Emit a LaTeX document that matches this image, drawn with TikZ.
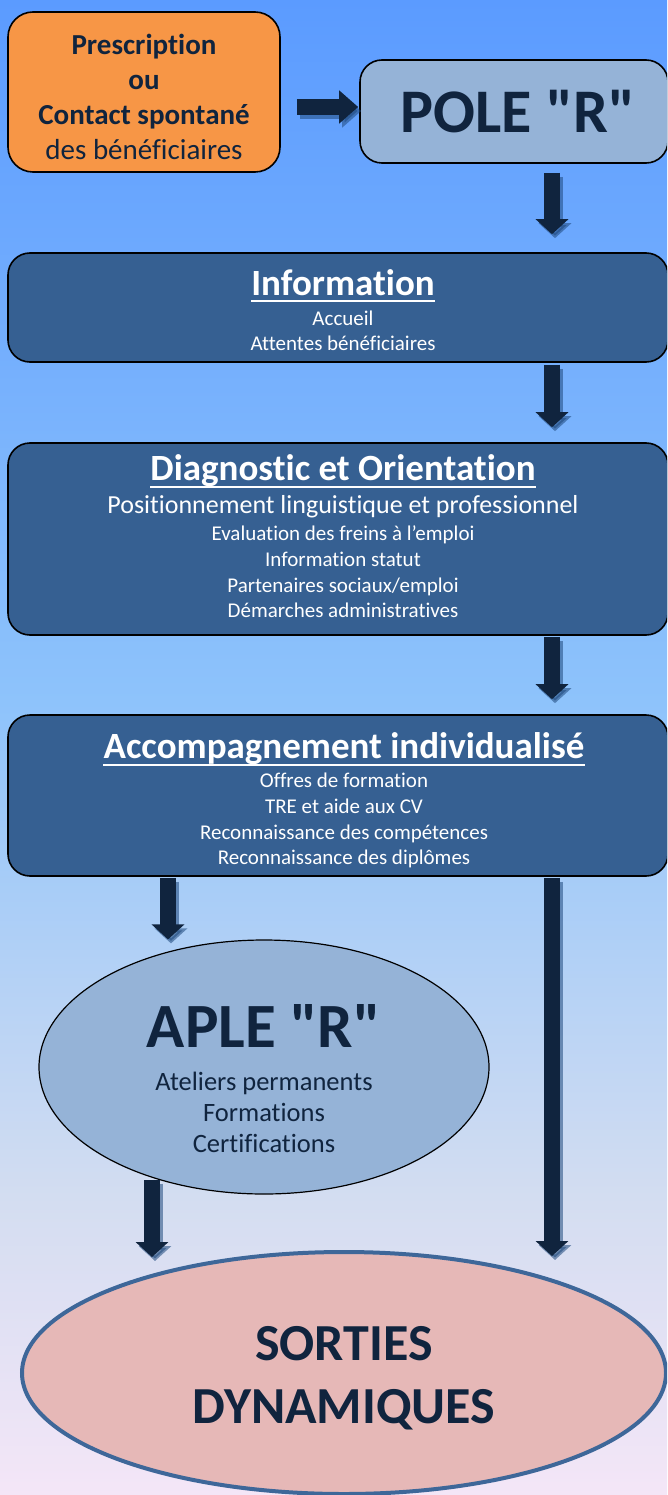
\documentclass[tikz,border=0pt]{standalone}
\usepackage{fontspec}
\setmainfont{Carlito}[Ligatures={NoCommon,TeXOff}]
\usetikzlibrary{arrows.meta,calc,shapes.geometric}
\definecolor{navy}{HTML}{10243E}
\definecolor{orangefill}{HTML}{F79646}
\definecolor{lightbox}{HTML}{95B3D7}
\definecolor{darkbox}{HTML}{366092}
\definecolor{pinkfill}{HTML}{E6B8B7}
\definecolor{sortborder}{HTML}{3E6799}
\definecolor{shadowc}{HTML}{1F497D}
\definecolor{bgtop}{HTML}{5B9BFF}
\definecolor{bgmid}{HTML}{8EC3FB}
\definecolor{bglow}{HTML}{D3DDF1}
\definecolor{bgbot}{HTML}{F4E6F7}
\pgfdeclareverticalshading{bgshade}{100bp}{color(0bp)=(bgbot); color(25bp)=(bgbot); color(35bp)=(bglow); color(51.5bp)=(bgmid); color(75bp)=(bgtop); color(100bp)=(bgtop)}
\tikzset{
  rbox/.style={draw=black, line width=1.6pt, rounded corners=22pt, inner sep=0pt},
  ebox/.style={ellipse, draw=black, line width=1.2pt, inner sep=0pt},
  txt/.style={anchor=base, inner sep=0pt},
  ttl/.style={txt, text=white, font=\fontsize{37pt}{40pt}\selectfont\bfseries},
  small/.style={txt, text=white, font=\fontsize{21pt}{25pt}\selectfont},
  bigarrow/.style={draw=navy, line width=16pt, -{Triangle[length=15pt,width=32pt]}},
  arrowshadow/.style={bigarrow, draw=shadowc, opacity=0.55, transform canvas={shift={(3pt,-4pt)}}},
  uline/.style={draw=white, line width=2.6pt}
}
\begin{document}
\begin{tikzpicture}[x=1pt,y=-1pt]
\useasboundingbox (0,0) rectangle (667,1495);
\clip (0,0) rectangle (667,1495);
\shade[shading=bgshade] (0,0) rectangle (667,1495);

% boxes
\node[rbox, fill=orangefill, rounded corners=25pt, minimum width=272pt, minimum height=160pt] (presc) at (144,92) {};
\node[rbox, fill=lightbox, minimum width=308pt, minimum height=103pt] (pole) at (514,111.5) {};
\node[rbox, fill=darkbox, minimum width=660pt, minimum height=109pt] (info) at (338,307.5) {};
\node[rbox, fill=darkbox, minimum width=660pt, minimum height=192pt] (diag) at (338,539) {};
\node[rbox, fill=darkbox, minimum width=660pt, minimum height=161pt] (accomp) at (338,795.5) {};
\node[ebox, fill=lightbox, minimum width=450pt, minimum height=254pt] (aple) at (264,1067) {};
\node[ebox, draw=sortborder, line width=4pt, fill=pinkfill, minimum width=644pt, minimum height=242pt] (sorties) at (344,1373) {};

% texts
\node[txt, text=navy, font=\fontsize{29pt}{35pt}\selectfont\bfseries] (p1) at (144,55) {Prescription};
\node[txt, text=navy, font=\fontsize{29pt}{35pt}\selectfont\bfseries] (p2) at (144,90) {ou};
\node[txt, text=navy, font=\fontsize{29pt}{35pt}\selectfont\bfseries] (p3) at (144,125) {Contact spontané};
\node[txt, text=navy, font=\fontsize{29pt}{35pt}\selectfont] (p4) at (144,160) {des bénéficiaires};

\node[txt, text=navy, font=\fontsize{62pt}{70pt}\selectfont\bfseries] (polet) at (518,133) {POLE "R"};

\node[ttl] (infot) at (343,295) {Information};
\draw[uline] ($(infot.base west)+(0,6)$) -- ($(infot.base east)+(0,6)$);
\node[small] (i1) at (343,325) {Accueil};
\node[small] (i2) at (343,350) {Attentes bénéficiaires};

\node[ttl] (diagt) at (343,480) {Diagnostic et Orientation};
\draw[uline] ($(diagt.base west)+(0,7)$) -- ($(diagt.base east)+(0,7)$);
\node[txt, text=white, font=\fontsize{26pt}{30pt}\selectfont] (d0) at (343,513) {Positionnement linguistique et professionnel};
\node[small] (d1) at (343,540) {Evaluation des freins à l’emploi};
\node[small] (d2) at (343,566) {Information statut};
\node[small] (d3) at (343,592) {Partenaires sociaux/emploi};
\node[small] (d4) at (343,617) {Démarches administratives};

\node[ttl] (acct) at (344,758) {Accompagnement individualisé};
\draw[uline] ($(acct.base west)+(0,7)$) -- ($(acct.base east)+(0,7)$);
\node[small] (a1) at (344,787) {Offres de formation};
\node[small] (a2) at (344,813) {TRE et aide aux CV};
\node[small] (a3) at (344,839) {Reconnaissance des compétences};
\node[small] (a4) at (344,864) {Reconnaissance des diplômes};

\node[txt, text=navy, font=\fontsize{63pt}{70pt}\selectfont\bfseries] (aplet) at (264,1047) {APLE "R"};
\node[txt, text=navy, font=\fontsize{26.5pt}{31pt}\selectfont] (l1) at (264,1090) {Ateliers permanents};
\node[txt, text=navy, font=\fontsize{26.5pt}{31pt}\selectfont] (l2) at (264,1121) {Formations};
\node[txt, text=navy, font=\fontsize{26.5pt}{31pt}\selectfont] (l3) at (264,1152) {Certifications};

\node[txt, text=navy, font=\fontsize{52pt}{62pt}\selectfont\bfseries] (s1) at (344,1360) {SORTIES};
\node[txt, text=navy, font=\fontsize{52pt}{62pt}\selectfont\bfseries] (s2) at (344,1423) {DYNAMIQUES};

% arrow guide coordinates
\coordinate (hy) at (0,107);
\coordinate (ax) at (552,0);
\coordinate (bx) at (168,0);
\coordinate (cx) at (152,0);

% arrow shadows
\draw[arrowshadow, -{Triangle[length=19pt,width=32pt]}, shorten <=16pt, shorten >=1pt] (presc.east |- hy) -- (pole.west |- hy);
\draw[arrowshadow, shorten <=9pt, shorten >=18pt] (pole.south -| ax) -- (info.north -| ax);
\draw[arrowshadow, shorten <=2pt, shorten >=15pt] (info.south -| ax) -- (diag.north -| ax);
\draw[arrowshadow, shorten <=1pt, shorten >=15pt] (diag.south -| ax) -- (accomp.north -| ax);
\draw[arrowshadow, shorten <=1pt, shorten >=0pt] (accomp.south -| bx) -- (aple.north -| bx);
\draw[arrowshadow, shorten <=1pt, shorten >=-6pt] (accomp.south -| ax) -- (sorties.north -| ax);
\draw[arrowshadow, shorten <=-15pt, shorten >=-7pt] (aple.south -| cx) -- (sorties.north -| cx);

% arrows
\draw[bigarrow, -{Triangle[length=19pt,width=32pt]}, shorten <=16pt, shorten >=1pt] (presc.east |- hy) -- (pole.west |- hy);
\draw[bigarrow, shorten <=9pt, shorten >=18pt] (pole.south -| ax) -- (info.north -| ax);
\draw[bigarrow, shorten <=2pt, shorten >=15pt] (info.south -| ax) -- (diag.north -| ax);
\draw[bigarrow, shorten <=1pt, shorten >=15pt] (diag.south -| ax) -- (accomp.north -| ax);
\draw[bigarrow, shorten <=1pt, shorten >=0pt] (accomp.south -| bx) -- (aple.north -| bx);
\draw[bigarrow, shorten <=1pt, shorten >=-6pt] (accomp.south -| ax) -- (sorties.north -| ax);
\draw[bigarrow, shorten <=-15pt, shorten >=-7pt] (aple.south -| cx) -- (sorties.north -| cx);
\end{tikzpicture}
\end{document}
